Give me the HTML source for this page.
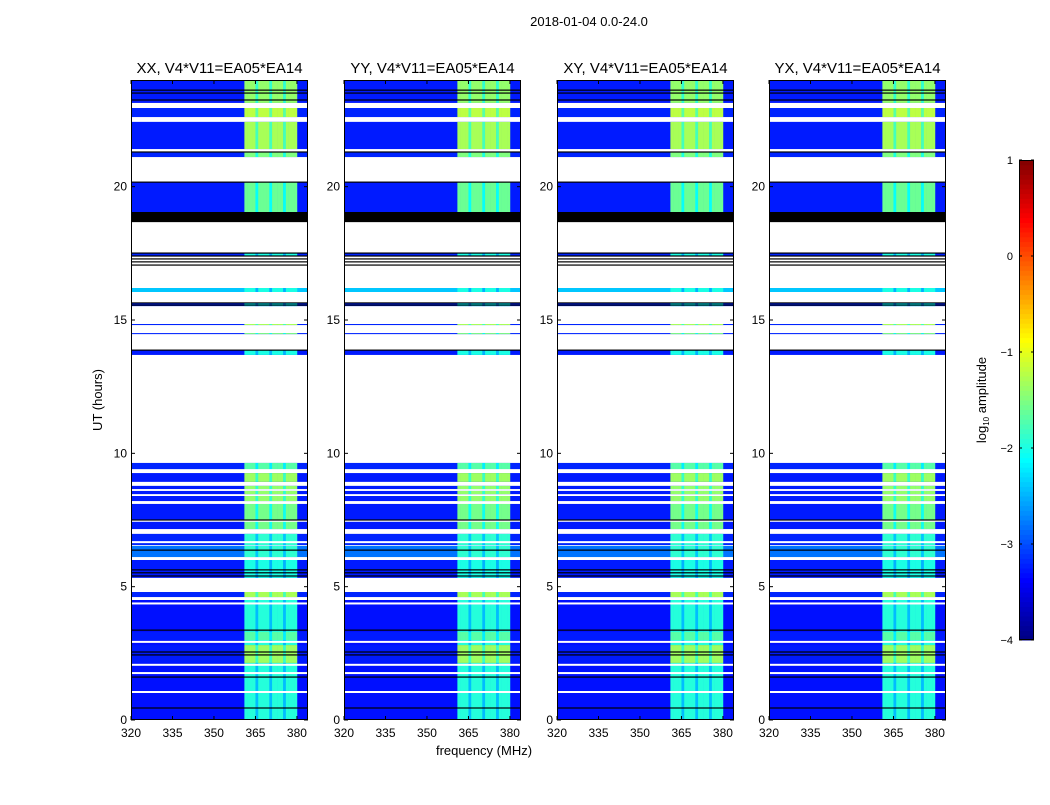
<!DOCTYPE html>
<html><head><meta charset="utf-8"><style>
body{margin:0;background:#fff;width:1050px;height:800px;overflow:hidden}
svg text{font-family:"Liberation Sans",sans-serif;fill:#000}
</style></head><body>
<svg id="fig" width="1050" height="800">
<text x="589" y="26" font-size="13" text-anchor="middle">2018-01-04 0.0-24.0</text>
<text x="484" y="755" font-size="13" text-anchor="middle">frequency (MHz)</text>
<text transform="translate(102,400) rotate(-90)" font-size="13" text-anchor="middle">UT (hours)</text>
<g id="panels"></g>
<g id="cbar"></g>
<text transform="translate(986,400) rotate(-90)" font-size="13" text-anchor="middle">log<tspan font-size="8" dy="3">10</tspan><tspan dy="-3"> amplitude</tspan></text>
</svg>
<script>
// ---- data ----
const panelTitles = ["XX, V4*V11=EA05*EA14","YY, V4*V11=EA05*EA14","XY, V4*V11=EA05*EA14","YX, V4*V11=EA05*EA14"];
const panelLeft = [131,344,557,769];
const xTicks = [320,335,350,365,380];
const yTicks = [0,5,10,15,20];
const cbarTicks = [1,0,-1,-2,-3,-4];
const bandStart = 361, bandEnd = 379;
const bandGaps = [365,370,375];
// data segments: [startHour, endHour, baseLevel, bandLevel]
const segStart = [23.14,22.61,21.41,21.11,19.05,17.40,16.05,15.52,14.81,14.47,13.69,9.37,8.93,8.66,8.47,8.21,7.16,6.56,6.11,5.33,4.61,0.00,2.14,3.0];
const segEnd   = [24.00,22.95,22.43,21.30,20.17,17.51,16.20,15.64,14.85,14.51,13.87,9.64,9.26,8.78,8.59,8.40,8.14,6.98,6.53,6.00,4.80,4.50,2.81,3.3];
const segBase  = [-3.25,-3.2,-3.25,-3.2,-3.25,-3.2,-2.4,-3.2,-3.2,-3.2,-3.25,-3.2,-3.25,-3.25,-3.25,-3.25,-3.25,-3.2,-2.8,-3.25,-3.2,-3.3,-3.25,-3.25];
const segBand  = [-1.4,-1.2,-1.3,-1.5,-1.6,-2.0,-2.0,-2.2,-1.3,-1.5,-2.0,-1.7,-1.35,-1.4,-1.4,-1.4,-1.55,-1.9,-1.9,-2.0,-1.3,-1.95,-1.35,-1.7];
const whiteRows = [4.37,2.93,2.07,1.76,1.05,9.37,8.14,7.47,6.67];
const blackRows = [23.62,23.51,23.25,21.30,20.17,17.51,17.40,17.29,17.18,17.06,15.64,15.56,13.87,7.50,6.37,5.63,5.52,5.40,3.37,2.55,2.44,1.61,0.45];
const blackBlock = [18.67,19.05];

// ---- helpers ----
const NS="http://www.w3.org/2000/svg";
const X0=320,X1=384,Y0=0,Y1=24,PW=177,PT=80,PB=720;
function xs(left,f){return left+(f-X0)/(X1-X0)*PW;}
function ys(h){return PB-(h-Y0)/(Y1-Y0)*(PB-PT);}
function clamp(v){return Math.max(0,Math.min(1,v));}
function jet(v){const t=(v+4)/5;const r=clamp(1.5-Math.abs(4*t-3)),g=clamp(1.5-Math.abs(4*t-2)),b=clamp(1.5-Math.abs(4*t-1));
return `rgb(${Math.round(r*255)},${Math.round(g*255)},${Math.round(b*255)})`;}
function el(tag,attrs,parent){const e=document.createElementNS(NS,tag);for(const k in attrs)e.setAttribute(k,attrs[k]);parent.appendChild(e);return e;}
function chanVal(f,base,band){
  if(f<bandStart||f>bandEnd)return base;
  if(bandGaps.includes(f))return band-0.5;
  return band;
}
const panels=document.getElementById('panels');
panelLeft.forEach((L,pi)=>{
  const g=el('g',{},panels);
  
  
  const hm=el('g',{},g);
  
  
  for(let s=0;s<segStart.length;s++){
    const y0=ys(segEnd[s]),y1=ys(segStart[s]);
    const r=el('rect',{x:xs(L,X0),y:y0,width:PW,height:y1-y0,fill:jet(segBase[s])},hm);
    
    
    for(let f=bandStart;f<=bandEnd;f++){
      const c=el('rect',{x:xs(L,f),y:y0,width:xs(L,f+1)-xs(L,f)+0.3,height:y1-y0,fill:jet(chanVal(f,segBase[s],segBand[s]))},hm);
      
      
    }
  }
  whiteRows.forEach(h=>{const w=el('rect',{x:L,y:ys(h)-1,width:PW,height:2,fill:'#fff'},hm);
    
    });
  blackRows.forEach(h=>{const b=el('rect',{x:L,y:ys(h)-0.6,width:PW,height:1.2,fill:'#000'},hm);
    
    });
  const bb=el('rect',{x:L,y:ys(blackBlock[1]),width:PW,height:ys(blackBlock[0])-ys(blackBlock[1]),fill:'#000'},hm);
  
  
  const fr=el('rect',{x:L+0.5,y:PT+0.5,width:PW-1,height:PB-PT-1,fill:'none',stroke:'#000','stroke-width':1},g);
  
  
  const t=el('text',{x:L+PW/2,y:73,'font-size':15,'text-anchor':'middle'},g);t.textContent=panelTitles[pi];
  
  
  xTicks.forEach(v=>{const x=xs(L,v);
    el('line',{x1:x,x2:x,y1:PB,y2:PB-4,stroke:'#000'},g);el('line',{x1:x,x2:x,y1:PT,y2:PT+4,stroke:'#000'},g);
    const tx=el('text',{x:x,y:PB+17,'font-size':12,'text-anchor':'middle'},g);tx.textContent=v;
    
    });
  yTicks.forEach(v=>{const y=ys(v);
    el('line',{x1:L,x2:L+4,y1:y,y2:y,stroke:'#000'},g);el('line',{x1:L+PW,x2:L+PW-4,y1:y,y2:y,stroke:'#000'},g);
    const ty=el('text',{x:L-4,y:y+4,'font-size':12,'text-anchor':'end'},g);ty.textContent=v;
    
    });
});
const cb=document.getElementById('cbar');


const CX=1019,CW=15,CT=160,CB=640;
function cy(v){return CB-(v+4)/5*(CB-CT);}
for(let i=0;i<100;i++){const v0=-4+i*0.05;
  el('rect',{x:CX,y:cy(v0+0.05),width:CW,height:(CB-CT)/100+0.5,fill:jet(v0+0.025)},cb);}
el('rect',{x:CX+0.5,y:CT+0.5,width:CW-1,height:CB-CT-1,fill:'none',stroke:'#000'},cb);
cbarTicks.forEach(v=>{const y=cy(v);
  el('line',{x1:CX,x2:CX+3,y1:y,y2:y,stroke:'#000'},cb);el('line',{x1:CX+CW,x2:CX+CW-3,y1:y,y2:y,stroke:'#000'},cb);
  const t=el('text',{x:1013,y:y+4,'font-size':11,'text-anchor':'end'},cb);t.textContent=v<0?'\u2212'+(-v):v;
  
  });
</script>
</body></html>
